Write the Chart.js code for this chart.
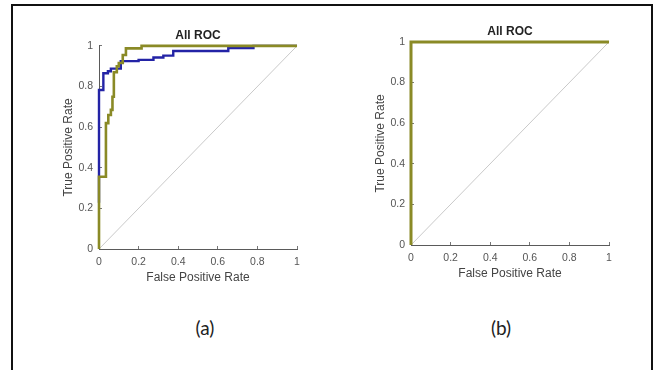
<!DOCTYPE html>
<html>
<head>
<meta charset="utf-8">
<script src="https://cdn.jsdelivr.net/npm/chart.js@4"></script>
<style>
    body { margin: 0; background: #fff; width: 657px; height: 370px; overflow: hidden; position: relative; }
    #frame { position: absolute; left: 11px; top: 4px; width: 638px; height: 400px; border: 2px solid #111; border-bottom: none; }
    canvas { position: absolute; }
    #chartA { left: 0; top: 0; }
    #chartB { left: 312px; top: -4px; }
    .cap { position: absolute; top: 316px; width: 60px; margin-left: -30px; text-align: center; font-family: Lato, "Open Sans", sans-serif; font-size: 19px; color: #222; }
</style>
</head>
<body>
<div id="frame"></div>
<canvas id="chartA" width="305" height="289"></canvas>
<canvas id="chartB" width="305" height="289"></canvas>
<div class="cap" style="left:205px">(a)</div>
<div class="cap" style="left:501px">(b)</div>

<script>
// (a) - to kurver
const fprBlueA = [0, 0, 0.022, 0.045, 0.06, 0.11, 0.2, 0.275, 0.325, 0.375, 0.653, 0.78, 1];
const tprBlueA = [0.228, 0.783, 0.865, 0.875, 0.888, 0.925, 0.931, 0.943, 0.952, 0.975, 0.99, 1, 1];

const fprOliveA = [0, 0, 0.035, 0.047, 0.06, 0.068, 0.075, 0.09, 0.1, 0.12, 0.136, 0.215, 1];
const tprOliveA = [0, 0.356, 0.62, 0.66, 0.685, 0.75, 0.87, 0.9, 0.916, 0.955, 0.988, 1, 1];

// (b) - perfekt klassifikator
const fprOliveB = [0, 0, 1];
const tprOliveB = [0, 1, 1];

// diagonal (tilfældig gæt)
const fprDiag = [0, 1];
const tprDiag = [0, 1];

const tickValues = [0, 0.2, 0.4, 0.6, 0.8, 1];
const chartTitle = "All ROC";
const xTitle = "False Positive Rate";
const yTitle = "True Positive Rate";

const blue = "#2323a6";
const olive = "#8a8a26";

function toPoints(xs, ys) {
    return xs.map((x, i) => ({ x: x, y: ys[i] }));
}

function curve(xs, ys, color, width, stepped) {
    return {
        data: toPoints(xs, ys),
        showLine: true,
        stepped: stepped,
        borderColor: color,
        borderWidth: width,
        pointRadius: 0,
        fill: false,
        clip: 6
    };
}

function axis(isX) {
    return {
        type: "linear",
        min: 0,
        max: 1,
        afterBuildTicks: (scale) => { scale.ticks = tickValues.map(v => ({ value: v })); },
        afterFit: (scale) => {
            if (isX) scale.height = 40; else scale.width = 42;
            scale.paddingLeft = 0; scale.paddingRight = 0;
            scale.paddingTop = 0; scale.paddingBottom = 0;
        },
        border: { display: true, color: "#5a5a5a", width: 1 },
        grid: { display: true, drawOnChartArea: false, drawTicks: true, tickLength: -3, color: "#777" },
        ticks: {
            padding: isX ? 10 : 9,
            color: "#555",
            font: { family: "Liberation Sans", size: 10.5 },
            callback: (v) => String(v)
        },
        title: {
            display: true,
            text: isX ? xTitle : yTitle,
            color: "#444",
            font: { family: "Liberation Sans", size: 12 },
            padding: { top: 4, bottom: 4 }
        }
    };
}

function makeChart(id, datasets) {
    new Chart(document.getElementById(id), {
        type: "scatter",
        data: { datasets: datasets },
        options: {
            responsive: false,
            animation: false,
            devicePixelRatio: 1,
            layout: { padding: { left: 57, top: 28.5, right: 8, bottom: 0 } },
            plugins: {
                legend: { display: false },
                tooltip: { enabled: false },
                title: {
                    display: true,
                    text: chartTitle,
                    fullSize: false,
                    color: "#222",
                    font: { family: "Liberation Sans", size: 12, weight: "bold" },
                    padding: { top: 0, bottom: 3 }
                }
            },
            scales: { x: axis(true), y: axis(false) }
        }
    });
}

makeChart("chartA", [
    curve(fprOliveA, tprOliveA, olive, 2.6, true),
    curve(fprBlueA, tprBlueA, blue, 2.4, true),
    curve(fprDiag, tprDiag, "#c9c9c9", 1, false)
]);

makeChart("chartB", [
    curve(fprOliveB, tprOliveB, olive, 3, true),
    curve(fprDiag, tprDiag, "#c9c9c9", 1, false)
]);
</script>
</body>
</html>
